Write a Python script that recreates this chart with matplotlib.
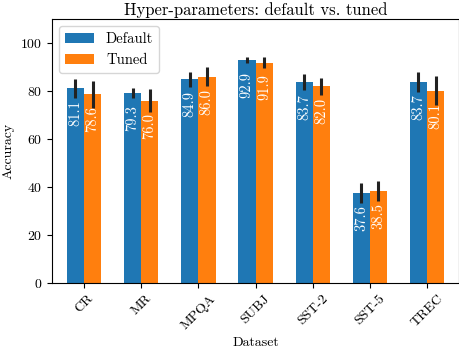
import numpy as np
import matplotlib
matplotlib.use("Agg")
import matplotlib.pyplot as plt

plt.rcParams['font.family'] = 'serif'
plt.rcParams['font.serif'] = ['cmr10']
plt.rcParams['axes.formatter.use_mathtext'] = True

datasets = ['CR', 'MR', 'MPQA', 'SUBJ', 'SST-2', 'SST-5', 'TREC']
default_acc = [81.1, 79.3, 84.9, 92.9, 83.7, 37.6, 83.7]
tuned_acc = [78.6, 76.0, 86.0, 91.9, 82.0, 38.5, 80.1]
default_err = [4.0, 2.0, 3.0, 1.3, 3.3, 4.2, 4.2]
tuned_err = [5.6, 4.7, 4.0, 2.2, 3.5, 4.2, 6.0]

x = np.arange(len(datasets))
w = 0.3

fig = plt.figure(figsize=(4.6, 3.48), dpi=100)
ax = fig.add_axes([0.113, 0.187, 0.885, 0.758])

err_kw = dict(ecolor='#222222', elinewidth=2.2, capsize=0)
ax.bar(x - w / 2, default_acc, w, yerr=default_err, color='#1f77b4', label='Default', error_kw=err_kw)
ax.bar(x + w / 2, tuned_acc, w, yerr=tuned_err, color='#ff7f0e', label='Tuned', error_kw=err_kw)

# value labels inside the bars
for i in range(len(datasets)):
    ax.text(x[i] - w / 2, default_acc[i] - 5, '%.1f' % default_acc[i], rotation=90,
            ha='center', va='top', color='white', fontsize=10.5)
    ax.text(x[i] + w / 2, tuned_acc[i] - 5, '%.1f' % tuned_acc[i], rotation=90,
            ha='center', va='top', color='white', fontsize=10.5)

ax.set_xlim(-0.56, 6.56)
ax.set_ylim(0, 110)
ax.set_xticks(x)
ax.set_xticklabels(datasets, rotation=45, fontsize=10)
ax.set_yticks([0, 20, 40, 60, 80, 100])
ax.tick_params(labelsize=10)
ax.set_xlabel('Dataset', fontsize=10)
ax.set_ylabel('Accuracy', fontsize=10)
ax.set_title('Hyper-parameters: default vs. tuned', fontsize=12, pad=3)
ax.legend(loc='upper left', fontsize=10.5)

fig.savefig('out.png', dpi=100)
